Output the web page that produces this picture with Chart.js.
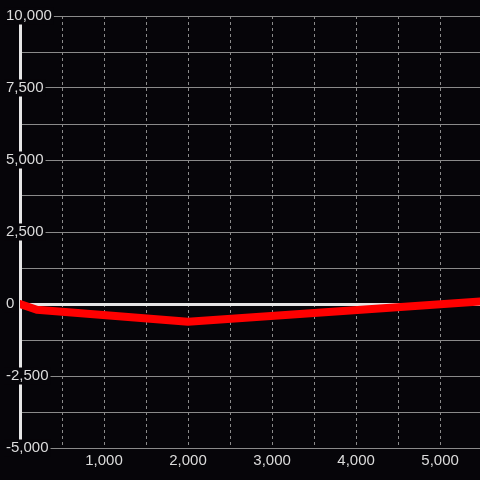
<!DOCTYPE html>
<html><head><meta charset="utf-8">
<script src="https://cdn.jsdelivr.net/npm/chart.js@4/dist/chart.umd.min.js"></script>
<style>html,body{margin:0;padding:0;background:#060509;}#wrap{width:480px;height:480px;}</style>
</head><body><div id="wrap"><canvas id="c" width="480" height="480"></canvas></div>
<script>
const xValues = [0, 200, 2000, 5500];
const yValues = [0, -200, -620, 90];
const xTicks = [0, 500, 1000, 1500, 2000, 2500, 3000, 3500, 4000, 4500, 5000];
const xLabelTicks = [1000, 2000, 3000, 4000, 5000];
const yTicks = [-5000, -3750, -2500, -1250, 0, 1250, 2500, 3750, 5000, 6250, 7500, 8750, 10000];
const yLabelTicks = [-5000, -2500, 0, 2500, 5000, 7500, 10000];
const xMin = 0, xMax = 5475;
const yMin = -5000, yMax = 10000;

const BG = '#060509';
const GRID = '#8a8a8a';
const ZERO = '#e6e6e6';
const TEXT = '#dcdcdc';
const FAMILY = '"Liberation Sans", Arial, sans-serif';
const fmt = v => v.toLocaleString('en-US');

const bgPlugin = {
  id: 'bg',
  beforeDraw(chart) {
    const ctx = chart.ctx;
    ctx.save();
    ctx.fillStyle = BG;
    ctx.fillRect(0, 0, chart.width, chart.height);
    ctx.restore();
  }
};

const isVal = (c, v) => c && c.tick && c.tick.value === v;

new Chart(document.getElementById('c'), {
  type: 'line',
  data: {
    datasets: [{
      data: xValues.map((x, i) => ({x: x, y: yValues[i]})),
      borderColor: '#ff0000',
      borderWidth: 8,
      pointRadius: 0,
      tension: 0,
      fill: false,
      borderCapStyle: 'round',
      borderJoinStyle: 'round'
    }]
  },
  options: {
    responsive: false,
    animation: false,
    devicePixelRatio: 1,
    layout: { padding: { left: 6, top: 16, right: 0, bottom: 0 } },
    plugins: { legend: { display: false }, tooltip: { enabled: false } },
    scales: {
      x: {
        type: 'linear', position: 'bottom', min: xMin, max: xMax, bounds: 'data',
        afterBuildTicks: s => { s.ticks = xTicks.map(v => ({value: v})); },
        afterFit: s => { s.height = 32; },
        border: { display: false, dash: [3, 3] },
        grid: {
          color: c => isVal(c, 0) ? 'rgba(0,0,0,0)' : GRID,
          lineWidth: 1, drawTicks: false
        },
        ticks: {
          autoSkip: false, maxRotation: 0, padding: 4.5, color: TEXT,
          font: { family: FAMILY, size: 15, lineHeight: '17px' },
          callback: v => xLabelTicks.includes(v) ? fmt(v) : ''
        }
      },
      y: {
        type: 'linear', position: 'left', min: yMin, max: yMax, bounds: 'data',
        afterBuildTicks: s => { s.ticks = yTicks.map(v => ({value: v})); },
        afterFit: s => { s.width = 14; },
        border: { display: true, color: ZERO, width: 3 },
        grid: {
          color: c => isVal(c, 0) ? ZERO : GRID,
          lineWidth: c => isVal(c, 0) ? 3 : 1,
          drawTicks: false
        },
        ticks: {
          autoSkip: false,
          mirror: true, crossAlign: 'near', padding: -14, color: TEXT,
          font: { family: FAMILY, size: 15, lineHeight: '17px' },
          showLabelBackdrop: c => !!(c && c.tick && yLabelTicks.includes(c.tick.value)),
          backdropColor: BG,
          backdropPadding: {top: 0, bottom: 0, left: 2, right: 2},
          callback: v => yLabelTicks.includes(v) ? fmt(v) : ''
        }
      }
    }
  },
  plugins: [bgPlugin]
});
</script>
</body></html>
